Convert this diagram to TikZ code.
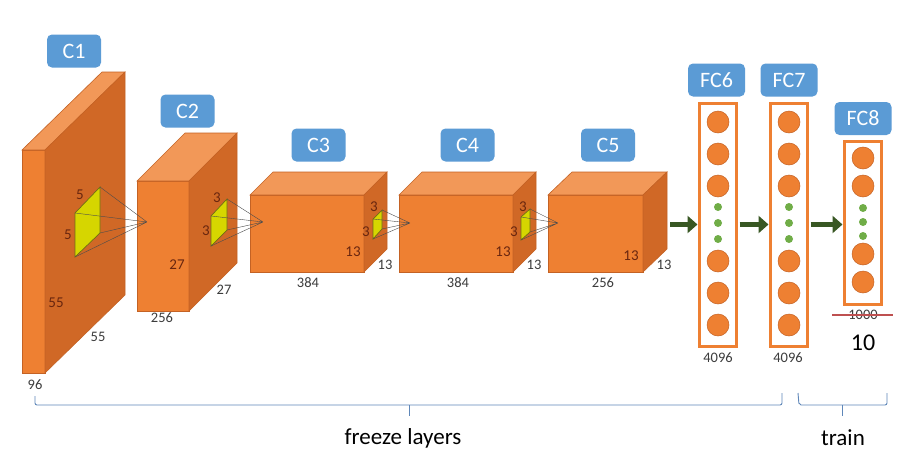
\documentclass[tikz,border=0pt]{standalone}
\usepackage{fontspec}
\setmainfont{Carlito}
\usetikzlibrary{arrows.meta}
\definecolor{ofront}{RGB}{238,128,50}
\definecolor{oside}{RGB}{208,104,38}
\definecolor{otop}{RGB}{242,152,88}
\definecolor{oedge}{RGB}{196,98,36}
\definecolor{lblue}{RGB}{91,155,213}
\definecolor{fyel}{RGB}{214,214,0}
\definecolor{fedge}{RGB}{110,110,20}
\definecolor{garrow}{RGB}{56,87,35}
\definecolor{gdot}{RGB}{112,173,71}
\definecolor{dimred}{RGB}{105,38,15}
\definecolor{dimgray}{RGB}{60,60,60}
\definecolor{bracecol}{RGB}{95,135,185}
\definecolor{strikecol}{RGB}{190,80,80}
\newcommand\mycuboid[6]{%
  \filldraw[fill=ofront,draw=oedge,line width=0.6pt] (#1,#2) rectangle (#3,#4);
  \filldraw[fill=otop,draw=oedge,line width=0.6pt] (#1,#2) -- ({#1+#5},{#2-#6}) -- ({#3+#5},{#2-#6}) -- (#3,#2) -- cycle;
  \filldraw[fill=oside,draw=oedge,line width=0.6pt] (#3,#2) -- ({#3+#5},{#2-#6}) -- ({#3+#5},{#4-#6}) -- (#3,#4) -- cycle;
}
\tikzset{
  lbl/.style={fill=lblue, rounded corners=5pt, text=white, font=\fontsize{22}{22}\selectfont, minimum width=54pt, minimum height=33pt, inner sep=0pt},
  fclbl/.style={lbl, minimum width=57pt},
  fcbox/.style={draw=ofront, line width=3pt, minimum width=37pt, inner sep=0pt},
  neuron/.style={circle, fill=ofront, draw=oedge, line width=0.5pt, minimum size=22pt, inner sep=0pt},
  gdotst/.style={circle, fill=gdot, minimum size=8pt, inner sep=0pt},
  filt/.style={fill=fyel, draw=fedge, line width=0.7pt},
  rf/.style={draw=black!70, line width=0.4pt},
  dimr/.style={text=dimred, font=\fontsize{15}{15}\selectfont, inner sep=0pt},
  dimg/.style={text=dimgray, font=\fontsize{14.5}{15}\selectfont, inner sep=0pt},
  garr/.style={draw=garrow, line width=5pt, -{Triangle[length=10pt,width=17pt]}},
  bracest/.style={draw=bracecol, line width=0.9pt, rounded corners=2pt},
  captext/.style={font=\fontsize{23}{23}\selectfont, inner sep=0pt}
}
\begin{document}
\begin{tikzpicture}[x=1pt,y=-1pt]
\useasboundingbox[fill=white] (0,0) rectangle (913,463);

% labels
\node[lbl] (lc1) at (74,51) {C1};
\node[lbl] (lc2) at (187.5,111) {C2};
\node[lbl] (lc3) at (318.5,145) {C3};
\node[lbl] (lc4) at (467.5,145) {C4};
\node[lbl] (lc5) at (608,145) {C5};
\node[fclbl] (lfc6) at (716.5,80) {FC6};
\node[fclbl] (lfc7) at (789,80) {FC7};
\node[fclbl] (lfc8) at (863,118.5) {FC8};

% C1
\mycuboid{22}{150}{45}{373}{80}{78}
\coordinate (f1a) at (75,213); \coordinate (f1b) at (100,187);
\coordinate (f1c) at (100,233); \coordinate (f1d) at (75,257);
\coordinate (a1) at (147,222);
\filldraw[filt] (f1a) -- (f1b) -- (f1c) -- (f1d) -- cycle;

% C2
\mycuboid{137}{181}{189}{311}{48}{48}
\draw[rf] (f1a) -- (a1) (f1b) -- (a1) (f1c) -- (a1) (f1d) -- (a1);
\coordinate (f2a) at (211,216); \coordinate (f2b) at (227,199);
\coordinate (f2c) at (227,230); \coordinate (f2d) at (211,246);
\coordinate (a2) at (263,222);
\filldraw[filt] (f2a) -- (f2b) -- (f2c) -- (f2d) -- cycle;

% C3
\mycuboid{250}{195}{364}{272}{23}{23}
\draw[rf] (f2a) -- (a2) (f2b) -- (a2) (f2c) -- (a2) (f2d) -- (a2);
\coordinate (f3a) at (373,219); \coordinate (f3b) at (382,210);
\coordinate (f3c) at (382,229); \coordinate (f3d) at (373,239);
\coordinate (a3) at (410,223);
\filldraw[filt] (f3a) -- (f3b) -- (f3c) -- (f3d) -- cycle;

% C4
\mycuboid{399}{195}{513}{272}{23}{23}
\draw[rf] (f3a) -- (a3) (f3b) -- (a3) (f3c) -- (a3) (f3d) -- (a3);
\coordinate (f4a) at (521,217); \coordinate (f4b) at (530,209);
\coordinate (f4c) at (530,232); \coordinate (f4d) at (521,240);
\coordinate (a4) at (558,223);
\filldraw[filt] (f4a) -- (f4b) -- (f4c) -- (f4d) -- cycle;

% C5
\mycuboid{548}{195}{643}{272}{24}{23}
\draw[rf] (f4a) -- (a4) (f4b) -- (a4) (f4c) -- (a4) (f4d) -- (a4);

% dimension labels
\node[dimr] (d1) at (80,195) {5};
\node[dimr] (d2) at (68,235) {5};
\node[dimr] (d3) at (56,303) {55};
\node[dimg] (d4) at (98,337) {55};
\node[dimg] (d5) at (35,385) {96};
\node[dimr] (d6) at (217,198) {3};
\node[dimr] (d7) at (206,231) {3};
\node[dimr] (d8) at (177,265) {27};
\node[dimg] (d9) at (224,290) {27};
\node[dimg] (d10) at (162,318) {256};
\node[dimr] (d11) at (374,207) {3};
\node[dimr] (d12) at (366,232) {3};
\node[dimr] (d13) at (353,252) {13};
\node[dimg] (d14) at (385,265) {13};
\node[dimg] (d15) at (308,283) {384};
\node[dimr] (d16) at (523,207) {3};
\node[dimr] (d17) at (514,232) {3};
\node[dimr] (d18) at (503,252) {13};
\node[dimg] (d19) at (534,265) {13};
\node[dimg] (d20) at (458,283) {384};
\node[dimr] (d21) at (631,256) {13};
\node[dimg] (d22) at (664,265) {13};
\node[dimg] (d23) at (603,283) {256};

% FC layers
\node[fcbox, minimum height=243pt] (fc6) at (717.5,224.5) {};
\node[fcbox, minimum height=243pt] (fc7) at (788.5,224.5) {};
\node[fcbox, minimum height=163pt] (fc8) at (862.5,222.5) {};
\foreach \x/\n in {718/6,789/7}{
  \foreach \y [count=\i] in {122,154,186,261,293,325}{
    \node[neuron] (n\n\i) at (\x,\y) {};
  }
  \foreach \y [count=\i] in {207,223,239}{
    \node[gdotst] (g\n\i) at (\x,\y) {};
  }
}
\foreach \y [count=\i] in {158,186,254,282}{
  \node[neuron] (n8\i) at (863,\y) {};
}
\foreach \y [count=\i] in {208,222,236}{
  \node[gdotst] (g8\i) at (863,\y) {};
}
\node[dimg] (s6) at (718,358) {4096};
\node[dimg] (s7) at (788,358) {4096};
\node[dimg] (s8) at (863,315) {1000};
\coordinate (st1) at (832,315); \coordinate (st2) at (893,315);
\draw[strikecol, line width=2pt] (st1) -- (st2);
\node[captext, font=\fontsize{24}{24}\selectfont] (ten) at (863,343) {10};

% arrows
\coordinate (c5out) at (670,224.5);
\draw[garr] (c5out) -- (fc6.west);
\draw[garr, shorten <=2pt] (fc6.east) -- (fc7.west);
\draw[garr, shorten <=2pt] (fc7.east) -- (fc7.east -| fc8.west);

% braces
\draw[bracest] (35,396) -- (35,405) -- (782,405) -- (782,393);
\draw[bracest] (409,405) -- (409,416);
\draw[bracest] (798,393) -- (799,405) -- (887,405) -- (887,393);
\draw[bracest] (842,405) -- (842,416);
\node[captext] (frz) at (403,438) {freeze layers};
\node[captext] (trn) at (843,438) {train};
\end{tikzpicture}
\end{document}
